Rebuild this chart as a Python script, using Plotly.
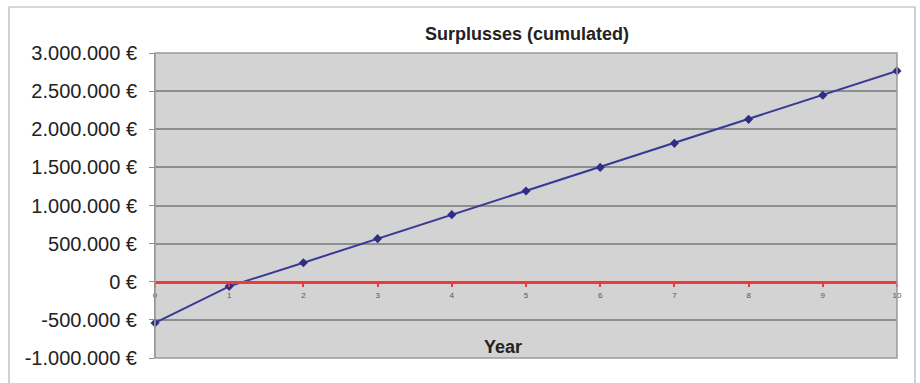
import plotly.graph_objects as go

# Cumulated surplus per year (EUR)
years = [0, 1, 2, 3, 4, 5, 6, 7, 8, 9, 10]
surplus = [-540000, -60000, 250000, 565000, 880000, 1190000,
           1500000, 1815000, 2130000, 2445000, 2765000]

y_tickvals = [-1000000, -500000, 0, 500000, 1000000, 1500000,
              2000000, 2500000, 3000000]
y_ticktext = ["-1.000.000 €", "-500.000 €", "0 €", "500.000 €", "1.000.000 €",
              "1.500.000 €", "2.000.000 €", "2.500.000 €", "3.000.000 €"]

title_text = "Surplusses (cumulated)"
x_title = "Year"

y_min, y_max = -1000000, 3000000
zero_pos = (0 - y_min) / (y_max - y_min)

W, H = 920, 383
ml, mr, mt, mb = 155, 23, 53, 25
pw, ph = W - ml - mr, H - mt - mb


def px_x(p):
    return (p - ml) / pw


def px_y(p):
    return (H - mb - p) / ph


fig = go.Figure()
fig.add_trace(go.Scatter(
    x=years, y=surplus, mode="lines+markers",
    line=dict(color="#3a3a94", width=2),
    marker=dict(symbol="diamond", size=7, color="#2e2e8a"),
    showlegend=False, cliponaxis=False,
))

fig.update_layout(
    width=W, height=H,
    margin=dict(l=ml, r=mr, t=mt, b=mb),
    paper_bgcolor="white",
    plot_bgcolor="#d3d3d3",
    font=dict(family="Liberation Sans, Arial, sans-serif", color="#222"),
    xaxis=dict(
        range=[0, 10], tickvals=years, ticktext=[str(v) for v in years],
        anchor="free", position=zero_pos,
        showgrid=False, zeroline=False,
        showline=True, linecolor="#f03a3a", linewidth=3,
        ticks="outside", ticklen=3, tickcolor="#e04040", tickwidth=1.5,
        tickfont=dict(size=8, color="#555"),
        ticklabelstandoff=2,
    ),
    yaxis=dict(
        range=[y_min, y_max], tickvals=y_tickvals, ticktext=y_ticktext,
        showgrid=True, gridcolor="#8e8e8e", gridwidth=1.5,
        zeroline=False,
        showline=True, linecolor="#8e8e8e", linewidth=1,
        ticks="outside", ticklen=5, tickcolor="#8e8e8e",
        tickfont=dict(size=20, color="#222"),
        ticklabelstandoff=8,
    ),
    shapes=[
        # plot area frame
        dict(type="rect", xref="paper", yref="paper", x0=0, x1=1, y0=0, y1=1,
             line=dict(color="#9a9a9a", width=1.5), layer="above"),
        # outer chart border
        dict(type="rect", xref="paper", yref="paper",
             x0=px_x(9), x1=px_x(915), y0=px_y(420), y1=px_y(7),
             line=dict(color="#a9b4b8", width=1.2), layer="below"),
    ],
    annotations=[
        dict(text="<b>" + title_text + "</b>", xref="paper", yref="paper",
             x=px_x(526.5), y=px_y(34), showarrow=False,
             font=dict(size=18, color="#222"), yanchor="middle"),
        dict(text="<b>" + x_title + "</b>", xref="x", yref="paper",
             x=4.69, y=px_y(347), showarrow=False,
             font=dict(size=18, color="#222"), yanchor="middle"),
    ],
)

fig.write_html("out.html")
